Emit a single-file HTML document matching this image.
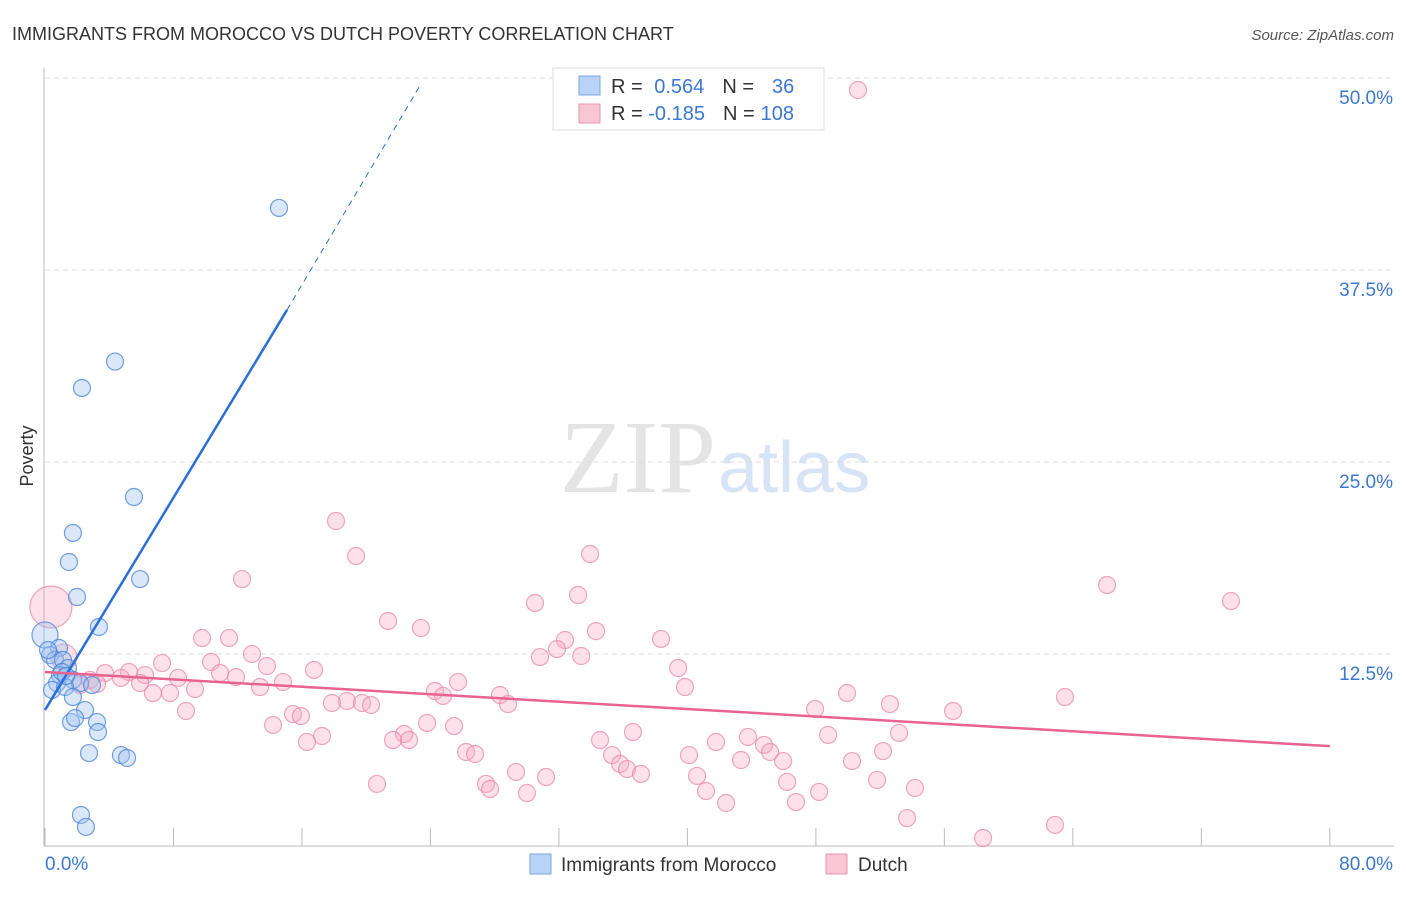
<!DOCTYPE html>
<html><head><meta charset="utf-8"><style>
body{margin:0;background:#fff;font-family:"Liberation Sans",sans-serif;}
svg text{font-family:"Liberation Sans",sans-serif;}
</style></head><body>
<svg width="1406" height="892" id="chart">
<text x="12" y="40" font-size="18" fill="#333">IMMIGRANTS FROM MOROCCO VS DUTCH POVERTY CORRELATION CHART</text>
<text x="1394" y="40" font-size="15" fill="#555" font-style="italic" text-anchor="end">Source: ZipAtlas.com</text>
<text x="716" y="492" font-size="104" fill="#e4e4e4" text-anchor="end" style="font-family:'Liberation Serif',serif">ZIP</text>
<text x="718" y="492" font-size="72" fill="#d6e4f5">atlas</text>
<text transform="translate(33,456) rotate(-90)" font-size="18" fill="#333" text-anchor="middle">Poverty</text>
<g id="grid"></g><g id="axes"></g><g id="pts"></g><g id="lines"></g>
<g>
<rect x="553" y="68" width="271" height="62" fill="#fff" stroke="#ddd"/>
<rect x="579" y="76" width="21" height="19" fill="#b8d3f5" stroke="#7aa7e0"/>
<rect x="579" y="104" width="21" height="19" fill="#f9c6d6" stroke="#e896b0"/>
<text x="611" y="93" font-size="20" fill="#333">R = <tspan fill="#3b78d0" dx="6">0.564</tspan><tspan fill="#333" dx="18">N =</tspan><tspan fill="#3b78d0" dx="18">36</tspan></text>
<text x="611" y="120" font-size="20" fill="#333">R = <tspan fill="#3b78d0">-0.185</tspan><tspan fill="#333" dx="18">N =</tspan><tspan fill="#3b78d0" dx="6">108</tspan></text>
</g>
<g>
<rect x="530" y="854" width="21" height="20" fill="#b8d3f5" stroke="#7aa7e0"/>
<text x="561" y="871" font-size="19" fill="#333">Immigrants from Morocco</text>
<rect x="826" y="854" width="21" height="20" fill="#f9c6d6" stroke="#e896b0"/>
<text x="858" y="871" font-size="19" fill="#333">Dutch</text>
</g>
</svg>
<script>
const yTicks=[12.5,25,37.5,50];
const yTickLabels=["12.5%","25.0%","37.5%","50.0%"];
const xTicks=[0,8,16,24,32,40,48,56,64,72,80];
const blueX=[14.57,4.36,2.30,5.54,1.74,1.49,5.92,1.99,3.36,0,0.87,0.31,0.62,1.12,1.43,0.93,1.74,0.75,2.18,2.93,0.44,1.25,1.74,2.49,1.62,1.87,3.24,3.30,2.74,4.73,5.11,2.24,2.55,0.19,1.06,1.31];
const blueY=[41.54,31.54,29.82,22.72,20.38,18.49,17.38,16.21,14.26,13.74,12.89,12.43,12.11,12.11,11.59,11.13,10.81,10.61,10.61,10.48,10.16,10.35,9.70,8.85,8.07,8.33,8.07,7.42,6.05,5.92,5.73,2.02,1.24,12.76,11.33,11.07];
const blueBig=[9];
const pinkX=[50.62,18.12,19.37,33.94,12.27,66.13,73.85,33.19,30.51,0.37,21.36,23.41,34.31,38.36,32.38,9.78,11.46,31.88,30.82,33.39,12.89,1.18,7.29,10.34,13.82,39.42,16.75,3.74,5.23,6.23,10.90,11.89,8.28,4.73,2.80,2.18,3.24,5.92,14.82,25.72,39.85,9.34,13.39,6.72,7.78,24.28,24.78,28.33,49.94,63.51,28.83,18.80,17.87,19.74,20.30,52.61,47.95,56.54,8.78,15.44,15.94,14.20,23.79,25.47,36.61,53.18,48.76,17.25,16.31,22.36,21.67,22.67,34.56,41.78,43.77,44.77,45.15,52.18,40.10,26.22,26.78,35.31,43.34,35.81,45.96,50.25,36.24,37.11,29.33,31.20,40.60,46.21,51.81,20.67,27.46,27.71,41.16,48.20,54.17,30.01,42.41,46.76,53.68,62.89,58.41];
const pinkY=[49.22,21.16,18.88,19.01,17.38,16.99,15.95,16.34,15.82,15.56,14.65,14.19,13.99,13.48,13.41,13.54,13.54,12.82,12.30,12.37,12.50,12.30,11.91,11.98,11.72,11.59,11.46,11.26,11.33,11.13,11.26,11.00,10.94,10.94,10.81,10.48,10.55,10.61,10.68,10.68,10.35,10.22,10.35,9.96,9.96,10.09,9.77,9.83,9.96,9.70,9.24,9.44,9.31,9.31,9.18,9.24,8.92,8.79,8.79,8.59,8.46,7.88,8.01,7.81,7.42,7.36,7.23,7.16,6.77,7.29,6.90,6.90,6.90,6.77,7.10,6.58,6.12,6.18,5.92,6.12,5.99,5.92,5.60,5.34,5.53,5.53,5.01,4.69,4.82,4.49,4.56,4.17,4.30,4.04,4.04,3.71,3.58,3.52,3.78,3.45,2.80,2.86,1.82,1.37,0.52];
const pinkBig=[9,21];
const blueLine=[0,8.85,15.07,34.9,23.4,49.6];
const pinkLine=[0,11.33,80,6.5];
const NS="http://www.w3.org/2000/svg";
const sx=v=>45+v*16.06, sy=v=>846-v*15.36;
function mk(t,a,p){const e=document.createElementNS(NS,t);for(const k in a)e.setAttribute(k,a[k]);document.getElementById(p).appendChild(e);return e;}
yTicks.forEach((t,i)=>{
 const g=mk('line',{x1:45,x2:1394,y1:sy(t),y2:sy(t),stroke:'#ddd','stroke-dasharray':'5,4'},'grid');
 
 
 const l=mk('text',{x:1393,y:sy(t)+26,'font-size':19,fill:'#3b78d0','text-anchor':'end'},'grid');
 l.textContent=yTickLabels[i];
 
 
});
const ya=mk('line',{x1:44,x2:44,y1:68,y2:846,stroke:'#bbb'},'axes');


const xa=mk('line',{x1:44,x2:1394,y1:846,y2:846,stroke:'#bbb'},'axes');


xTicks.forEach(t=>{
 const k=mk('line',{x1:sx(t),x2:sx(t),y1:828,y2:846,stroke:'#bbb'},'axes');
 
 
});
const x0=mk('text',{x:45,y:870,'font-size':19,fill:'#3b78d0'},'axes');x0.textContent='0.0%';


const x1=mk('text',{x:1393,y:870,'font-size':19,fill:'#3b78d0','text-anchor':'end'},'axes');x1.textContent='80.0%';


pinkX.forEach((v,i)=>{
 const r=pinkBig.includes(i)?(i==9?21:13):8.5;
 const c=mk('circle',{cx:sx(v),cy:sy(pinkY[i]),r:r,fill:'rgba(246,170,196,0.35)',stroke:'rgba(232,130,165,0.7)','stroke-width':1.2},'pts');
 
 
});
blueX.forEach((v,i)=>{
 const r=blueBig.includes(i)?13:8.5;
 const c=mk('circle',{cx:sx(v),cy:sy(blueY[i]),r:r,fill:'rgba(160,196,240,0.4)',stroke:'rgba(70,130,215,0.75)','stroke-width':1.2},'pts');
 
 
});
const b1=mk('line',{x1:sx(blueLine[0]),y1:sy(blueLine[1]),x2:sx(blueLine[2]),y2:sy(blueLine[3]),stroke:'#2a6fd6','stroke-width':2.5},'lines');


const b2=mk('line',{x1:sx(blueLine[2]),y1:sy(blueLine[3]),x2:sx(blueLine[4]),y2:sy(blueLine[5]),stroke:'#2a6fd6','stroke-width':1,'stroke-dasharray':'6,5'},'lines');


const p1=mk('line',{x1:sx(pinkLine[0]),y1:sy(pinkLine[1]),x2:sx(pinkLine[2]),y2:sy(pinkLine[3]),stroke:'#e8638f','stroke-width':2.5},'lines');


</script>
</body></html>
